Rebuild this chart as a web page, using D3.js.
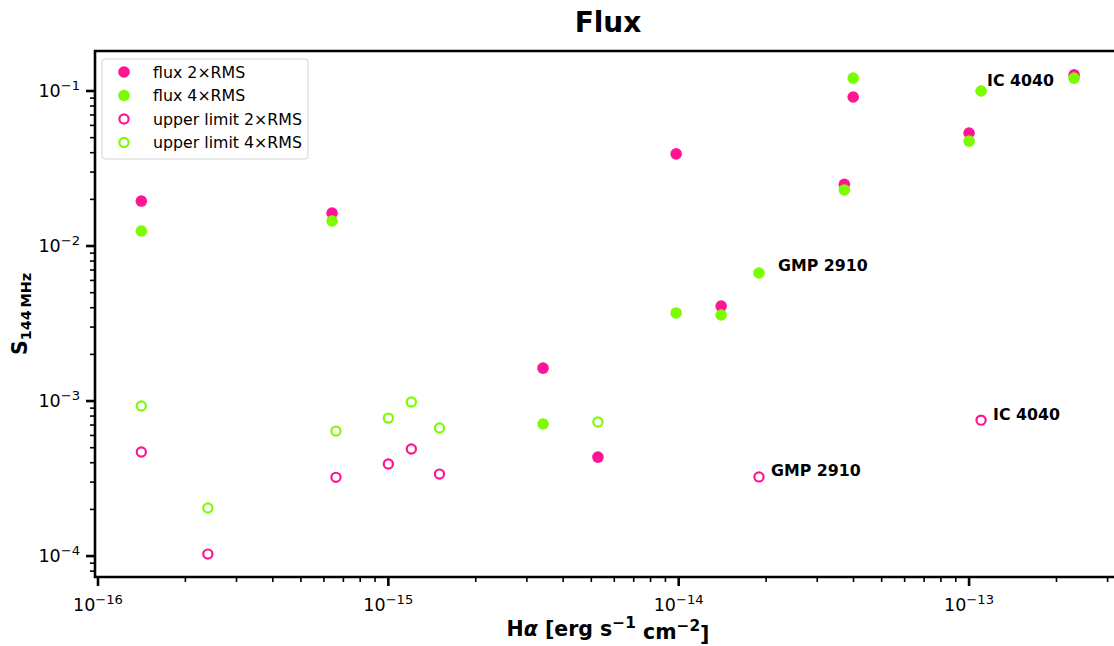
<!DOCTYPE html>
<html><head><meta charset="utf-8">
<script src="https://cdn.jsdelivr.net/npm/d3@7"></script>
<style>
body{margin:0;background:#fff;}
svg{font-family:"DejaVu Sans",sans-serif;}
</style></head>
<body><svg id="c" width="1114" height="646"></svg>
<script>
// flux 2xRMS detections
const flux2X = [1.41e-16, 6.4e-16, 3.41e-15, 5.27e-15, 9.8e-15, 1.40e-14, 3.72e-14, 3.99e-14, 1.0e-13, 2.30e-13];
const flux2Y = [0.0195, 0.0163, 1.63e-3, 4.35e-4, 0.0393, 4.1e-3, 0.0250, 0.0915, 0.0536, 0.127];
// flux 4xRMS detections
const flux4X = [1.41e-16, 6.4e-16, 3.41e-15, 9.8e-15, 1.40e-14, 1.89e-14, 3.72e-14, 3.99e-14, 1.0e-13, 1.10e-13, 2.30e-13];
const flux4Y = [0.0125, 0.0145, 7.11e-4, 3.70e-3, 3.59e-3, 6.7e-3, 0.0230, 0.121, 0.0475, 0.100, 0.121];
// upper limits 2xRMS
const ul2X = [1.41e-16, 2.39e-16, 6.6e-16, 1.0e-15, 1.20e-15, 1.50e-15, 1.89e-14, 1.10e-13];
const ul2Y = [4.69e-4, 1.03e-4, 3.22e-4, 3.93e-4, 4.90e-4, 3.38e-4, 3.24e-4, 7.53e-4];
// upper limits 4xRMS
const ul4X = [1.41e-16, 2.39e-16, 6.6e-16, 1.0e-15, 1.20e-15, 1.50e-15, 5.27e-15];
const ul4Y = [9.29e-4, 2.04e-4, 6.40e-4, 7.76e-4, 9.86e-4, 6.70e-4, 7.33e-4];
// annotations (attached to data points)
const labelText = ["IC 4040", "GMP 2910", "GMP 2910", "IC 4040"];
const labelX = [1.10e-13, 1.89e-14, 1.89e-14, 1.10e-13];
const labelY = [0.100, 6.7e-3, 3.24e-4, 7.53e-4];
const legendLabels = ["flux 2×RMS", "flux 4×RMS", "upper limit 2×RMS", "upper limit 4×RMS"];
const xTickExps = [-16, -15, -14, -13];
const yTickExps = [-4, -3, -2, -1];

const pink = "#ff1493", green = "#7cfc00";
const svg = d3.select("#c");
const L = 95, R = 1121.5, T = 51, B = 577;
const x = d3.scaleLog().domain([Math.pow(10, -16.0103), Math.pow(10, -12.475)]).range([L, R]);
const y = d3.scaleLog().domain([Math.pow(10, -4.135), Math.pow(10, -0.742)]).range([B, T]);

function texLabel(sel, e){
  sel.text("");
  sel.append("tspan").text("10");
  sel.append("tspan").attr("dy","-0.55em").attr("font-size","0.75em").text("\u2212" + Math.abs(e));
}

// minor ticks
const xMinor = [], yMinor = [];
for (let e = -17; e <= -12; e++) for (let m = 2; m <= 9; m++) {
  const v = m * Math.pow(10, e);
  if (v >= x.domain()[0] && v <= x.domain()[1]) xMinor.push(v);
}
for (let e = -5; e <= 0; e++) for (let m = 2; m <= 9; m++) {
  const v = m * Math.pow(10, e);
  if (v >= y.domain()[0] && v <= y.domain()[1]) yMinor.push(v);
}

const gx = svg.append("g").attr("transform", `translate(0,${B})`);
gx.selectAll("line.minor").data(xMinor).join("line").attr("class","minor")
  .attr("x1", d=>x(d)).attr("x2", d=>x(d)).attr("y1",0).attr("y2",5)
  .attr("stroke","#000").attr("stroke-width",1.6);
gx.selectAll("line.major").data(xTickExps).join("line").attr("class","major")
  .attr("x1", d=>x(Math.pow(10,d))).attr("x2", d=>x(Math.pow(10,d))).attr("y1",0).attr("y2",9)
  .attr("stroke","#000").attr("stroke-width",2.6);
gx.selectAll("text").data(xTickExps).join("text")
  .attr("x", d=>x(Math.pow(10,d))).attr("y", 34).attr("text-anchor","middle")
  .attr("font-size",17.5).each(function(d){ texLabel(d3.select(this), d); });

const gy = svg.append("g").attr("transform", `translate(${L},0)`);
gy.selectAll("line.minor").data(yMinor).join("line").attr("class","minor")
  .attr("y1", d=>y(d)).attr("y2", d=>y(d)).attr("x1",0).attr("x2",-5)
  .attr("stroke","#000").attr("stroke-width",1.6);
gy.selectAll("line.major").data(yTickExps).join("line").attr("class","major")
  .attr("y1", d=>y(Math.pow(10,d))).attr("y2", d=>y(Math.pow(10,d))).attr("x1",0).attr("x2",-9)
  .attr("stroke","#000").attr("stroke-width",2.6);
gy.selectAll("text").data(yTickExps).join("text")
  .attr("x", -15).attr("y", d=>y(Math.pow(10,d)) + 6).attr("text-anchor","end")
  .attr("font-size",17.5).each(function(d){ texLabel(d3.select(this), d); });

// spines
svg.append("path").attr("d", `M${L},${T}H${R}M${L},${T-1.3}V${B+1.3}M${L},${B}H${R}`)
  .attr("stroke","#000").attr("stroke-width",2.6).attr("fill","none");

// points
const zip = (a,b)=>a.map((v,i)=>[v,b[i]]);
const plot = svg.append("g");
function filled(xs, ys, col){
  plot.append("g").selectAll("circle").data(zip(xs,ys)).join("circle")
    .attr("cx", d=>x(d[0])).attr("cy", d=>y(d[1])).attr("r",5.8).attr("fill",col);
}
function open(xs, ys, col){
  plot.append("g").selectAll("circle").data(zip(xs,ys)).join("circle")
    .attr("cx", d=>x(d[0])).attr("cy", d=>y(d[1])).attr("r",4.6).attr("fill","none")
    .attr("stroke",col).attr("stroke-width",2.2);
}
filled(flux2X, flux2Y, pink);
filled(flux4X, flux4Y, green);
open(ul2X, ul2Y, pink);
open(ul4X, ul4Y, green);

// annotations
const dxs = [6, 19, 12, 12], dys = [-5, -2, -0.5, -0.5];
svg.append("g").selectAll("text").data(labelText).join("text")
  .attr("x", (d,i)=>x(labelX[i]) + dxs[i])
  .attr("y", (d,i)=>y(labelY[i]) + dys[i])
  .attr("font-size",15.8).attr("font-weight","bold").text(d=>d);

// legend
const lg = svg.append("g");
lg.append("rect").attr("x",102).attr("y",59).attr("width",206).attr("height",100).attr("rx",3)
  .attr("fill","#fff").attr("fill-opacity",0.8).attr("stroke","#d3d3d3").attr("stroke-width",1);
const legCols = [pink, green, pink, green];
legendLabels.forEach((t,i)=>{
  const cy = 72 + i*23.5;
  if (i < 2) lg.append("circle").attr("cx",124).attr("cy",cy).attr("r",5.8).attr("fill",legCols[i]);
  else lg.append("circle").attr("cx",124).attr("cy",cy).attr("r",4.6).attr("fill","none").attr("stroke",legCols[i]).attr("stroke-width",2.2);
  lg.append("text").attr("x",153).attr("y",cy+5.5).attr("font-size",15.8).text(t);
});

// title and axis labels
svg.append("text").attr("x",608).attr("y",32).attr("text-anchor","middle")
  .attr("font-size",28).attr("font-weight","bold").text("Flux");
const xl = svg.append("text").attr("x",608).attr("y",636).attr("text-anchor","middle")
  .attr("font-size",20.5).attr("font-weight","bold");
xl.append("tspan").text("H");
xl.append("tspan").attr("font-style","italic").text("α");
xl.append("tspan").text(" [erg s");
xl.append("tspan").attr("dy","-0.5em").attr("font-size","0.75em").text("\u22121");
xl.append("tspan").attr("dy","0.5em").text(" cm");
xl.append("tspan").attr("dy","-0.5em").attr("font-size","0.75em").text("\u22122");
xl.append("tspan").attr("dy","0.5em").text("]");
const yl = svg.append("text").attr("transform","translate(27,314) rotate(-90)").attr("text-anchor","middle")
  .attr("font-size",20.5).attr("font-weight","bold");
yl.append("tspan").text("S");
yl.append("tspan").attr("dy","0.3em").attr("font-size","0.7em").text("144\u2009MHz");
</script></body></html>
